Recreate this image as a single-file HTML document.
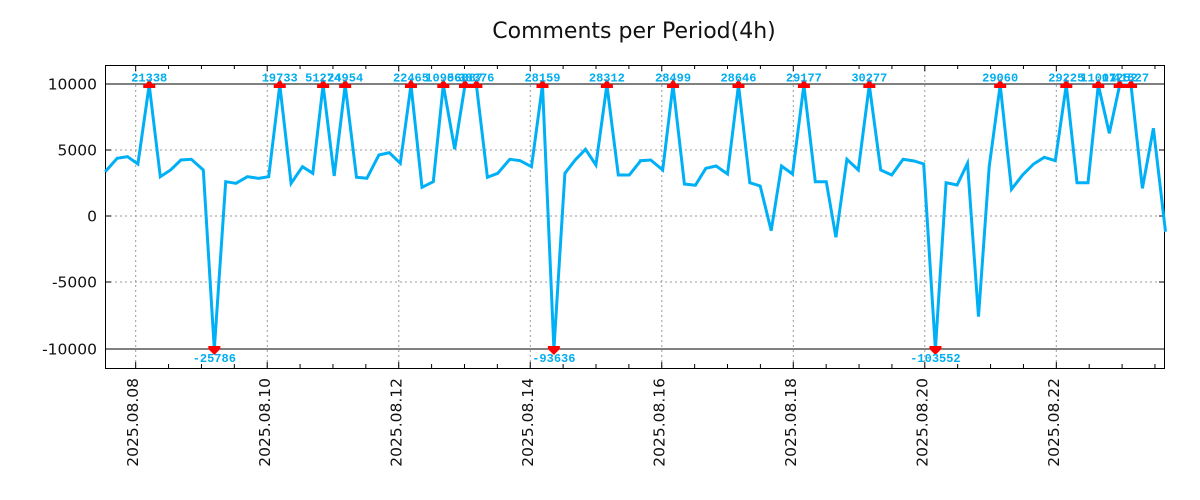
<!DOCTYPE html>
<html><head><meta charset="utf-8"><style>
html,body{margin:0;padding:0;background:#fff;}
svg{display:block;}
</style></head><body>
<svg id="c" width="1200" height="500" xmlns="http://www.w3.org/2000/svg" font-family="DejaVu Sans, Liberation Sans, sans-serif"></svg>
<script>
const s=2.904;
const z1=[[15,335],[50,295],[80,290],[110,312],[143,75],[175,350],[205,330],[235,300],[265,298],[300,330],[332,868],[365,365],[395,370],[428,350],[460,355],[490,350],[522,75],[555,370],[588,320],[618,340],[648,75],[680,348],[712,75],[745,352],[775,355],[810,285],[840,278],[872,310],[903,75],[935,382],[968,365],[997,75],[1030,268],[1060,75],[1093,75],[1125,352],[1155,340],[1190,298],[1220,302],[1253,320],[1285,75],[1318,868],[1350,340],[1380,300],[1410,268],[1440,315],[1472,75],[1505,345],[1537,345],[1568,305]];
const z2=[[30,302],[60,300],[95,330],[125,75],[158,372],[190,376],[220,325],[250,318],[283,342],[315,75],[348,368],[378,378],[410,512],[440,318],[472,342],[505,75],[538,365],[570,365],[598,532],[630,298],[663,330],[695,75],[728,330],[760,345],[793,298],[825,303],[853,312],[887,868],[918,368],[950,375],[980,310],[1012,770],[1043,320],[1075,75],[1108,388],[1140,345],[1172,312],[1203,292],[1235,302],[1267,75],[1298,368],[1330,368],[1360,75],[1392,220],[1422,75],[1455,75],[1488,385],[1520,205],[1555,515]];
const pts=z1.map(p=>[100+p[0]/s,60+p[1]/3]).concat(z2.map(p=>[630+p[0]/s,60+p[1]/3]));
const peaks=[[143,"21338"],[522,"19733"],[648,"51274"],[712,"24954"],[903,"22465"],[997,"10906"],[1060,"56887"],[1093,"38376"],[1285,"28159"],[1472,"28312"]].map(a=>[100+a[0]/s,a[1]])
 .concat([[125,"28499"],[315,"28646"],[505,"29177"],[695,"30277"],[1075,"29060"],[1267,"29225"],[1360,"11001"],[1422,"17252"],[1455,"41527"]].map(a=>[630+a[0]/s,a[1]]));
const troughs=[[100+332/s,"-25786"],[100+1318/s,"-93636"],[630+887/s,"-103552"]];
let h='';
h+='<text x="634" y="38" font-size="22" text-anchor="middle" fill="#111">Comments per Period(4h)</text>';
const gx=[135.7,267.3,398.8,530.3,661.8,793.3,924.8,1056.3];
gx.forEach(x=>h+=`<line x1="${x}" y1="65" x2="${x}" y2="368" stroke="#999" stroke-dasharray="2,3" stroke-width="1"/>`);
[150,216,282].forEach(y=>h+=`<line x1="105" y1="${y}" x2="1165" y2="${y}" stroke="#999" stroke-dasharray="2,3" stroke-width="1"/>`);
[84,349].forEach(y=>h+=`<line x1="105" y1="${y}" x2="1165" y2="${y}" stroke="#000" stroke-width="1"/>`);
h+='<rect x="105.5" y="65.5" width="1059" height="303" fill="none" stroke="#000" stroke-width="1"/>';
for(let x=135.7-32.9;x<1165;x+=32.88){ if(x<106)continue; const big=gx.some(g=>Math.abs(g-x)<2);const l=big?6:4;
 h+=`<line x1="${x}" y1="368" x2="${x}" y2="${368-l}" stroke="#000"/><line x1="${x}" y1="65" x2="${x}" y2="${65+l}" stroke="#000"/>`;}
[[84,"10000"],[150,"5000"],[216,"0"],[282,"-5000"],[349,"-10000"]].forEach(([y,t])=>{
 h+=`<line x1="105" y1="${y}" x2="111" y2="${y}" stroke="#000"/><line x1="1165" y1="${y}" x2="1159" y2="${y}" stroke="#000"/>`;
 h+=`<text x="97" y="${y+5.5}" font-size="15.5" text-anchor="end" fill="#111">${t}</text>`;});
const dl=["2025.08.08","2025.08.10","2025.08.12","2025.08.14","2025.08.16","2025.08.18","2025.08.20","2025.08.22"];
gx.forEach((x,i)=>h+=`<text transform="translate(${x+2.5},378) rotate(-90)" font-size="15.5" text-anchor="end" fill="#111">${dl[i]}</text>`);
h+=`<polyline points="${pts.map(p=>p[0].toFixed(1)+','+p[1].toFixed(1)).join(' ')}" fill="none" stroke="#00b0f6" stroke-width="3" stroke-linejoin="miter"/>`;
peaks.forEach(([x,t])=>{h+=`<polygon points="${x-6},88 ${x+6},88 ${x},79" fill="#f00"/><rect x="${x-6}" y="84" width="12" height="4" fill="#f00"/>`;
 h+=`<text x="${x}" y="81.5" font-size="12" font-weight="bold" font-family="Liberation Mono, monospace" text-anchor="middle" fill="#00aef0">${t}</text>`;});
troughs.forEach(([x,t])=>{h+=`<rect x="${x-6}" y="346" width="12" height="3" fill="#f00"/><polygon points="${x-6},349 ${x+6},349 ${x},355" fill="#f00"/>`;
 h+=`<text x="${x}" y="362" font-size="12" font-weight="bold" font-family="Liberation Mono, monospace" text-anchor="middle" fill="#00aef0">${t}</text>`;});
document.getElementById('c').innerHTML=h;
</script>
</body></html>
